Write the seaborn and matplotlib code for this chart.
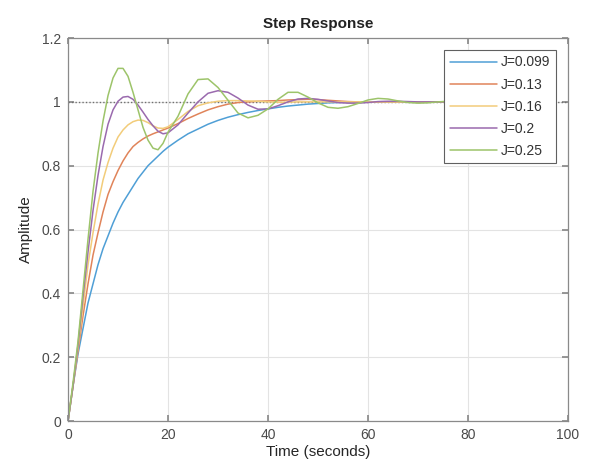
import numpy as np
import pandas as pd
import matplotlib
matplotlib.use("Agg")
import matplotlib.pyplot as plt
import seaborn as sns
from matplotlib.ticker import FuncFormatter

# time samples (seconds)
time_s = [0, 1, 2, 3, 4, 5, 6, 7, 8, 9, 10, 11, 12, 13, 14, 15, 16, 17, 18, 19, 20,
          22, 24, 26, 28, 30, 32, 34, 36, 38, 40, 42, 44, 46, 48, 50, 52, 54, 56, 58,
          60, 62, 64, 66, 68, 70, 72, 74, 76, 78, 80]

# step response, one list per inertia value
resp_j0099 = [0, 0.11, 0.21, 0.29, 0.37, 0.43, 0.49, 0.54, 0.58, 0.62, 0.655, 0.685, 0.71, 0.735,
              0.76, 0.78, 0.80, 0.815, 0.83, 0.845, 0.858,
              0.88, 0.90, 0.915, 0.93, 0.942, 0.952, 0.96, 0.967, 0.973, 0.978, 0.983, 0.987, 0.99,
              0.993, 0.995, 0.997, 0.998, 0.999, 1.0, 1.0, 1.0, 1.0, 1.0, 1.0, 1.0, 1.0, 1.0, 1.0, 1.0, 1.0]
resp_j013 = [0, 0.11, 0.22, 0.33, 0.43, 0.52, 0.59, 0.655, 0.71, 0.75, 0.785, 0.815, 0.84, 0.86,
             0.873, 0.884, 0.893, 0.90, 0.906, 0.912, 0.918,
             0.932, 0.948, 0.962, 0.975, 0.985, 0.993, 0.998, 1.0, 1.002, 1.003, 1.004, 1.006, 1.007,
             1.008, 1.007, 1.005, 1.003, 1.001, 1.0, 0.999, 1.0, 1.0, 1.0, 1.0, 1.0, 1.0, 1.0, 1.0, 1.0, 1.0]
resp_j016 = [0, 0.11, 0.23, 0.36, 0.49, 0.59, 0.68, 0.755, 0.81, 0.855, 0.89, 0.912, 0.928, 0.938,
             0.943, 0.942, 0.935, 0.925, 0.918, 0.917, 0.922,
             0.945, 0.97, 0.988, 0.997, 1.002, 1.004, 1.004, 1.003, 1.002, 1.0, 0.999, 0.999, 1.0,
             1.0, 1.0, 1.0, 1.0, 1.0, 1.0, 1.0, 1.0, 1.0, 1.0, 1.0, 1.0, 1.0, 1.0, 1.0, 1.0, 1.0]
resp_j02 = [0, 0.11, 0.24, 0.39, 0.53, 0.66, 0.77, 0.86, 0.93, 0.975, 1.002, 1.015, 1.017, 1.008,
            0.99, 0.968, 0.945, 0.925, 0.908, 0.90, 0.903,
            0.928, 0.965, 1.0, 1.027, 1.035, 1.03, 1.012, 0.99, 0.977, 0.978, 0.988, 1.0, 1.009,
            1.011, 1.008, 1.003, 0.998, 0.996, 0.996, 0.998, 1.001, 1.002, 1.002, 1.001, 1.0, 1.0,
            1.0, 1.0, 1.0, 1.0]
resp_j025 = [0, 0.12, 0.25, 0.41, 0.57, 0.72, 0.84, 0.94, 1.02, 1.075, 1.105, 1.105, 1.08, 1.03,
             0.975, 0.92, 0.88, 0.855, 0.85, 0.87, 0.905,
             0.955, 1.025, 1.07, 1.072, 1.045, 1.005, 0.965, 0.95, 0.958, 0.978, 1.008, 1.03, 1.03,
             1.015, 0.997, 0.983, 0.98, 0.985, 0.995, 1.006, 1.011, 1.009, 1.003, 0.998, 0.996,
             0.997, 1.0, 1.002, 1.002, 1.001]

labels = ["J=0.099", "J=0.13", "J=0.16", "J=0.2", "J=0.25"]
colors = ["#4f9fd6", "#e0845a", "#f2cc7a", "#9a6aae", "#9dc46a"]

frames = []
for lab, vals in zip(labels, [resp_j0099, resp_j013, resp_j016, resp_j02, resp_j025]):
    frames.append(pd.DataFrame({"t": time_s, "y": vals, "J": lab}))
df = pd.concat(frames, ignore_index=True)

sns.set_theme(style="whitegrid")
plt.rcParams['font.family'] = ['Liberation Sans', 'DejaVu Sans']

fig = plt.figure(figsize=(5.89, 4.67), dpi=100)
ax = fig.add_axes([0.1155, 0.0985, 0.8488, 0.82])

# steady state reference
ax.axhline(1.0, color="#707070", linestyle=(0, (1, 1.5)), linewidth=1.0, zorder=1)

sns.lineplot(data=df, x="t", y="y", hue="J", palette=colors, linewidth=1.1,
             sort=False, estimator=None, ax=ax, zorder=2)

ax.set_xlim(0, 100)
ax.set_ylim(0, 1.2)
ax.set_xticks(np.arange(0, 101, 20))
ax.set_yticks(np.arange(0, 1.21, 0.2))
ax.yaxis.set_major_formatter(FuncFormatter(lambda v, p: f"{v:g}"))

ax.grid(True, color="#e3e3e3", linewidth=0.8)
ax.set_facecolor("white")
for sp in ax.spines.values():
    sp.set_color("#8a8a8a")
    sp.set_linewidth(0.9)
ax.tick_params(axis="both", direction="in", length=4, color="#8a8a8a",
               labelsize=10, labelcolor="#4a4a4a", top=True, right=True,
               bottom=True, left=True, pad=5)

ax.set_title("Step Response", fontsize=11, fontweight="bold", color="#222222", pad=7)
ax.set_xlabel("Time (seconds)", fontsize=11, color="#262626", labelpad=2)
ax.set_ylabel("Amplitude", fontsize=11, color="#262626", labelpad=6)

leg = ax.legend(loc="upper right", bbox_to_anchor=(0.976, 0.969), frameon=True, fancybox=False,
                fontsize=10, handlelength=3.4, handletextpad=0.3, borderpad=0.4,
                labelspacing=0.58, borderaxespad=0, title=None)
leg.get_frame().set_edgecolor("#606060")
leg.get_frame().set_linewidth(0.8)
leg.get_frame().set_alpha(1)
leg.set_zorder(5)
for txt in leg.get_texts():
    txt.set_color("#333333")

fig.savefig("out.png", dpi=100)
